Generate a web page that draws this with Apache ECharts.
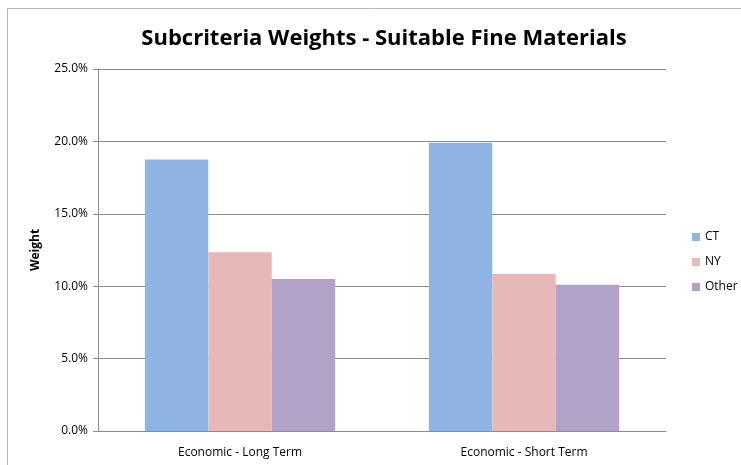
<!DOCTYPE html>
<html>
<head>
<meta charset="utf-8">
<script src="https://cdn.jsdelivr.net/npm/echarts@6/dist/echarts.min.js"></script>
<style>
  html, body { margin: 0; padding: 0; background: #fff; }
  #chart { width: 741px; height: 465px; }
</style>
</head>
<body>
<div id="chart"></div>
<script>
// Subcriteria weights per region, in percent
var categories = ['Economic - Long Term', 'Economic - Short Term'];
var seriesNames = ['CT', 'NY', 'Other'];
var ctValues = [18.75, 19.9];
var nyValues = [12.35, 10.85];
var otherValues = [10.5, 10.1];
var colors = ['#8EB4E3', '#E6B9B8', '#B3A2C7'];

var font = '"Open Sans", "Liberation Sans", sans-serif';
var chart = echarts.init(document.getElementById('chart'));

function barSeries(name, values, color) {
  return {
    name: name,
    type: 'bar',
    data: values,
    barGap: '0%',
    barCategoryGap: '33%',
    itemStyle: { color: color },
    emphasis: { disabled: true }
  };
}

chart.setOption({
  animation: false,
  textStyle: { fontFamily: font },
  title: {
    text: 'Subcriteria Weights - Suitable Fine Materials',
    left: 379,
    textAlign: 'center',
    top: 23,
    textStyle: { fontSize: 22, fontWeight: 'bold', color: '#000', fontFamily: font }
  },
  graphic: [{
    type: 'rect',
    shape: { x: 7.5, y: 8.5, width: 800, height: 500 },
    style: { fill: 'none', stroke: '#b9b9b9', lineWidth: 1 },
    silent: true
  }],
  legend: {
    orient: 'vertical',
    left: 687,
    top: 226,
    itemWidth: 8,
    itemHeight: 8,
    itemGap: 13,
    icon: 'rect',
    textStyle: { fontSize: 12, color: '#000', fontFamily: font }
  },
  grid: { left: 98, right: 75, top: 69, bottom: 34 },
  xAxis: {
    type: 'category',
    data: categories,
    axisLine: { lineStyle: { color: '#8c8c8c' } },
    axisTick: { length: 5, lineStyle: { color: '#8c8c8c' } },
    axisLabel: { fontSize: 12, color: '#000', margin: 16 }
  },
  yAxis: {
    type: 'value',
    min: 0,
    max: 25,
    interval: 5,
    name: 'Weight',
    nameLocation: 'middle',
    nameGap: 56,
    nameTextStyle: { fontSize: 12, fontWeight: 'bold', color: '#000' },
    axisLine: { show: true, lineStyle: { color: '#8c8c8c' } },
    axisTick: { show: true, length: 5, lineStyle: { color: '#8c8c8c' } },
    axisLabel: { fontSize: 12, color: '#000', margin: 10, formatter: function (v) { return v.toFixed(1) + '%'; } },
    splitLine: { lineStyle: { color: '#8c8c8c' } }
  },
  series: [
    barSeries(seriesNames[0], ctValues, colors[0]),
    barSeries(seriesNames[1], nyValues, colors[1]),
    barSeries(seriesNames[2], otherValues, colors[2])
  ]
});
</script>
</body>
</html>
